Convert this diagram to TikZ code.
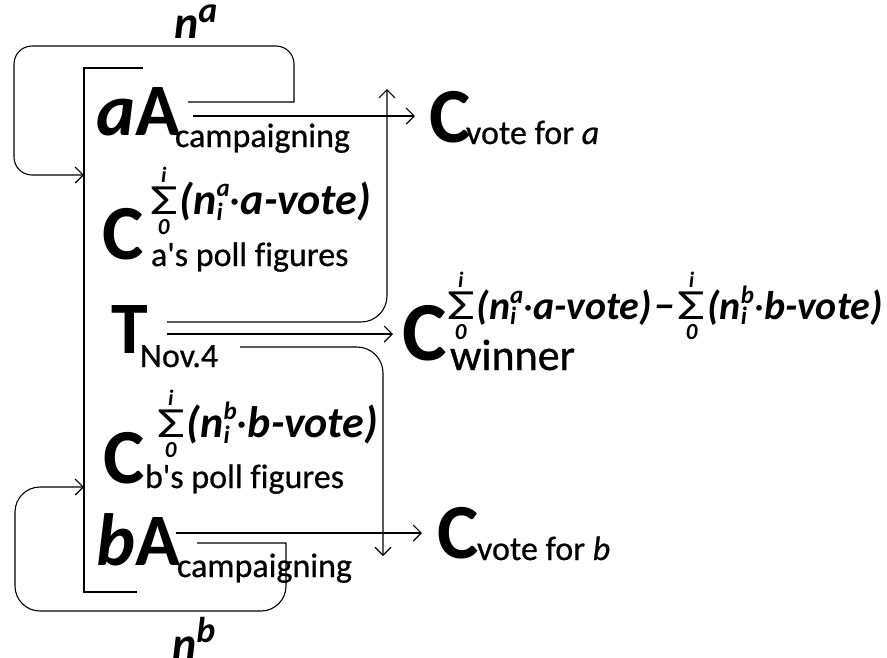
\documentclass[tikz,border=0pt]{standalone}
\usepackage{fontspec}
\usepackage{graphicx}
\setmainfont{Carlito}[Ligatures={TeXOff,CommonOff}]
\usetikzlibrary{arrows.meta}
\newcommand\fsz[1]{\fontsize{#1}{#1}\selectfont}
\newcommand\nsup[2]{n\rlap{\raisebox{-0.14em}{\fsz{25}#2}}\raisebox{0.40em}{\fsz{25}#1}}
\newcommand\mdot{{\mdseries\upshape ·}}
\newcommand\sigw{\scalebox{1.4}[1]{Σ}}
\tikzset{
  every node/.style={inner sep=0pt, outer sep=0pt},
  ln/.style={line width=1.1pt},
  arr/.style={ln, -{Straight Barb[length=8pt,width=16pt]}},
  big/.style={font=\fsz{74}\bfseries, anchor=base west},
  bigc/.style={font=\fsz{78}\bfseries, anchor=base west},
  sub/.style={font=\fsz{34}\addfontfeature{FakeBold=0.6}, anchor=base west},
  supm/.style={font=\fsz{44}\bfseries\itshape, anchor=base west},
  supw/.style={font=\fsz{40}\bfseries\itshape, anchor=base west},
  sig/.style={font=\fsz{43}, anchor=base west},
  limt/.style={font=\fsz{22}\bfseries\itshape, anchor=south},
  limb/.style={font=\fsz{23}\bfseries\itshape, anchor=north},
  lab/.style={font=\fsz{46}\bfseries\itshape, anchor=base west},
}
\begin{document}
\begin{tikzpicture}[x=1pt,y=-1pt]
\useasboundingbox (0,0) rectangle (887,657);
% loop labels
\node[lab] (na) at (174,38) {n\raisebox{0.34em}{\fsz{36}a}};
\node[lab] (nb) at (172,659) {n\raisebox{0.36em}{\fsz{36}b}};
% row a
\node[big] (aA) at (96,135) {\itshape a\upshape A};
\node[sub] (acamp) at (175,147) {campaigning};
\node[bigc] (Ca) at (102,259) {C};
\node[sig] (Sa) at (150,214) {\sigw};
\node[limt] (Sai) at ([yshift=4pt]Sa.north) {i};
\node[limb] (Sa0) at ([yshift=-5pt]Sa.south) {0};
\node[supm] (Ta) at ([xshift=2pt]Sa.base east) {(\nsup{a}{i}\mdot a-vote)};
\node[sub] (apoll) at (151,266) {a's poll figures};
% T
\node[big] (T) at (111,353) {T};
\node[sub] (nov) at (140,367) {Nov.4};
% row b
\node[bigc] (Cb) at (103,483) {C};
\node[sig] (Sb) at (157,437) {\sigw};
\node[limt] (Sbi) at ([yshift=4pt]Sb.north) {i};
\node[limb] (Sb0) at ([yshift=-5pt]Sb.south) {0};
\node[supm] (Tb) at ([xshift=2pt]Sb.base east) {(\nsup{b}{i}\mdot b-vote)};
\node[sub] (bpoll) at (145,488) {b's poll figures};
\node[big] (bA) at (96,565) {\itshape b\upshape A};
\node[sub] (bcamp) at (177,577) {campaigning};
% votes
\node[bigc] (Cva) at (429,142) {C};
\node[sub] (va) at (466,144) {vote for \textit{a}};
\node[bigc] (Cvb) at (437,558) {C};
\node[sub] (vb) at (477,560) {vote for \textit{b}};
% winner
\node[big, font=\fsz{84}\bfseries] (Cw) at (402,360) {C};
\node[sig] (Sw1) at (447,319) {\sigw};
\node[limt] (Sw1i) at ([yshift=4pt]Sw1.north) {i};
\node[limb] (Sw10) at ([yshift=-5pt]Sw1.south) {0};
\node[supw] (Tw1) at ([xshift=2pt]Sw1.base east) {(\nsup{a}{i}\mdot a-vote)};
\node[supw] (Mw) at ([xshift=3pt]Tw1.base east) {−};
\node[sig] (Sw2) at ([xshift=3pt]Mw.base east) {\sigw};
\node[limt] (Sw2i) at ([yshift=4pt]Sw2.north) {i};
\node[limb] (Sw20) at ([yshift=-5pt]Sw2.south) {0};
\node[supw] (Tw2) at ([xshift=2pt]Sw2.base east) {(\nsup{b}{i}\mdot b-vote)};
\node[sub, font=\fsz{44}\addfontfeature{FakeBold=0.8}] (win) at (450,370) {winner};
% connector points
\coordinate (ta0) at (188,102);
\coordinate (ta1) at (294,102);
\coordinate (ta2) at (294,46);
\coordinate (ta3) at (14,46);
\coordinate (ta4) at (14,175);
\coordinate (ta5) at (84,175);
\coordinate (ba0) at (197,543);
\coordinate (ba1) at (286,543);
\coordinate (ba2) at (286,611);
\coordinate (ba3) at (15,611);
\coordinate (ba4) at (15,487);
\coordinate (ba5) at (84,487);
\coordinate (br0) at (143,68);
\coordinate (br1) at (84,68);
\coordinate (br2) at (84,592);
\coordinate (br3) at (137,592);
\coordinate (aS) at (193,116);
\coordinate (aE) at (415,116);
\coordinate (uS) at (167,322);
\coordinate (uE) at (387,89);
\coordinate (mS) at (167,334);
\coordinate (mE) at (393,334);
\coordinate (dS) at (240,347);
\coordinate (dE) at (383,556);
\coordinate (bS) at (176,533);
\coordinate (bE) at (422,533);
% connectors
\draw[arr] (ta0) -- (ta1) [rounded corners=18pt] -- (ta2) -- (ta3) -- (ta4) [sharp corners] -- (ta5);
\draw[arr] (ba0) -- (ba1) [rounded corners=25pt] -- (ba2) -- (ba3) -- (ba4) [sharp corners] -- (ba5);
\draw[ln] (br0) -- (br1) -- (br2) -- (br3);
\draw[arr] (aS) -- (aE);
\draw[arr, rounded corners=26pt] (uS) -| (uE);
\draw[arr] (mS) -- (mE);
\draw[arr, rounded corners=26pt] (dS) -| (dE);
\draw[arr] (bS) -- (bE);
\end{tikzpicture}
\end{document}
